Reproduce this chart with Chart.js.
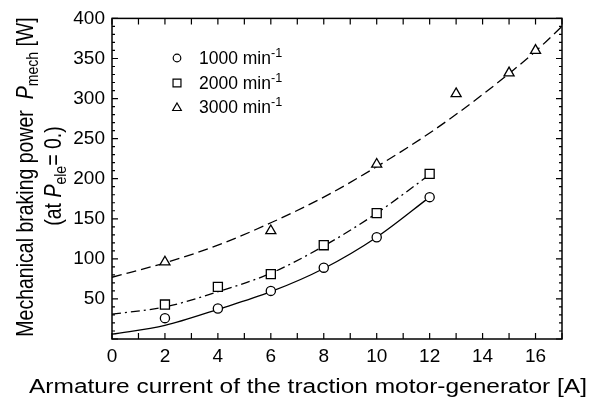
<!DOCTYPE html>
<html>
<head>
<meta charset="utf-8">
<script src="https://cdn.jsdelivr.net/npm/chart.js@4/dist/chart.umd.min.js"></script>
<style>
  html, body { margin: 0; padding: 0; background: #fff; }
  #wrap { width: 597px; height: 406px; position: relative; }
</style>
</head>
<body>
<div id="wrap"><canvas id="c"></canvas></div>
<script>
// measured points
const xCur = [2, 4, 6, 8, 10, 12];
const p1000 = [26, 38, 60, 89, 127, 177];
const p2000 = [43, 65, 81, 117, 157, 206];
const x3000 = [2, 6, 10, 13, 15, 16];
const p3000 = [96, 135, 218, 306, 332, 360];

// fitted curves
const fitX12 = [0, 2, 4, 6, 8, 10, 12];
const fit1000 = [6, 17, 37, 59, 88, 127, 177];
const fit2000 = [31, 40, 59, 82, 116, 157, 205];
const fitX17 = [0, 2, 4, 6, 8, 10, 12, 14, 16, 17];
const fit3000 = [77, 95, 117, 145, 177, 215, 257, 305, 359, 390];

const legendNames = ['1000 min', '2000 min', '3000 min'];
const legendStyles = ['circle', 'rect', 'triangle'];

const xTickLabels = [0, 2, 4, 6, 8, 10, 12, 14, 16];
const yTickLabels = [50, 100, 150, 200, 250, 300, 350, 400];

const FONT = '"Liberation Sans", Arial, sans-serif';
const pts = (xs, ys) => xs.map((x, i) => ({ x, y: ys[i] }));

// draw a run of text parts, each {t, it, sub, sup}
function richWidth(ctx, parts, size) {
  let w = 0;
  parts.forEach(p => {
    const s = (p.sub || p.sup) ? size * 0.72 : size;
    ctx.font = (p.it ? 'italic ' : '') + s + 'px ' + FONT;
    w += ctx.measureText(p.t).width;
  });
  return w;
}
function drawRich(ctx, parts, x, y, size) {
  parts.forEach(p => {
    const s = (p.sub || p.sup) ? size * 0.72 : size;
    ctx.font = (p.it ? 'italic ' : '') + s + 'px ' + FONT;
    let dy = 0;
    if (p.sub) dy = size * 0.22;
    if (p.sup) dy = -size * 0.38;
    ctx.fillText(p.t, x, y + dy);
    x += ctx.measureText(p.t).width;
  });
}

const framePlugin = {
  id: 'frame',
  afterDraw(chart) {
    const ctx = chart.ctx;
    const a = chart.chartArea;
    const sx = chart.scales.x, sy = chart.scales.y;
    ctx.save();
    ctx.strokeStyle = '#000';
    ctx.fillStyle = '#000';
    ctx.lineWidth = 1.5;
    ctx.strokeRect(a.left, a.top, a.right - a.left, a.bottom - a.top);

    ctx.lineWidth = 1.2;
    ctx.beginPath();
    for (let v = 0; v <= 17; v++) {
      const px = sx.getPixelForValue(v);
      ctx.moveTo(px, a.bottom); ctx.lineTo(px, a.bottom - 6);
      ctx.moveTo(px, a.top); ctx.lineTo(px, a.top + 6);
    }
    for (let v = 0; v <= 400; v += 10) {
      const py = sy.getPixelForValue(v);
      const len = v % 50 === 0 ? 6 : 3;
      ctx.moveTo(a.left, py); ctx.lineTo(a.left + len, py);
      ctx.moveTo(a.right, py); ctx.lineTo(a.right - len, py);
    }
    ctx.stroke();

    // legend
    ctx.textBaseline = 'alphabetic';
    ctx.textAlign = 'left';
    const rows = [58, 83, 107];
    legendNames.forEach((name, i) => {
      ctx.lineWidth = 1.2;
      ctx.strokeStyle = '#000';
      ctx.fillStyle = '#fff';
      const r = legendStyles[i] === 'rect' ? 5.6 : (legendStyles[i] === 'triangle' ? 5 : 3.8);
      Chart.helpers.drawPoint(ctx, { pointStyle: legendStyles[i], radius: r, rotation: 0, borderWidth: 1.2 }, 177, rows[i] + (legendStyles[i] === 'triangle' ? 1 : 0));
      ctx.fillStyle = '#000';
      drawRich(ctx, [{ t: name }, { t: '-1', sup: true }], 199, rows[i] + 6, 17.5);
    });

    // x title, widened to match the stretched original
    const xt = [{ t: 'Armature current of the traction motor-generator [A]' }];
    const xs = 20;
    const xw = richWidth(ctx, xt, xs);
    const k = 558 / xw;
    ctx.save();
    ctx.translate(308, 393);
    ctx.scale(k, 1);
    drawRich(ctx, xt, -xw / 2, 0, xs);
    ctx.restore();

    // y title, two lines (glyphs widened across like the original)
    const y1 = [{ t: 'Mechanical braking power  ' }, { t: 'P', it: true }, { t: 'mech', sub: true }, { t: ' [W]' }];
    const y2 = [{ t: '(at ' }, { t: 'P', it: true }, { t: 'ele', sub: true }, { t: '= 0.)' }];
    const ys = 19.5;
    ctx.save();
    ctx.translate(33, 177);
    ctx.rotate(-Math.PI / 2);
    ctx.scale(1, 1.2);
    const w1 = richWidth(ctx, y1, ys);
    drawRich(ctx, y1, -w1 / 2, 0, ys);
    ctx.restore();
    ctx.save();
    ctx.translate(61, 176);
    ctx.rotate(-Math.PI / 2);
    ctx.scale(1, 1.2);
    const w2 = richWidth(ctx, y2, ys);
    drawRich(ctx, y2, -w2 / 2, 0, ys);
    ctx.restore();

    ctx.restore();
  }
};

const lineDs = (data, dash) => ({
  type: 'line', data, borderColor: '#000', borderWidth: 1.3, borderDash: dash,
  pointRadius: 0, fill: false, cubicInterpolationMode: 'monotone', order: 2
});
const markDs = (data, style, r) => ({
  type: 'scatter', data, pointStyle: style, pointRadius: r, pointBorderWidth: 1.3,
  pointBorderColor: '#000', pointBackgroundColor: '#fff', showLine: false, order: 1
});

new Chart(document.getElementById('c'), {
  data: {
    datasets: [
      lineDs(pts(fitX12, fit1000), []),
      lineDs(pts(fitX12, fit2000), [9, 4, 2, 4]),
      lineDs(pts(fitX17, fit3000), [10, 5]),
      markDs(pts(xCur, p1000), 'circle', 4.6),
      markDs(pts(xCur, p2000), 'rect', 6.4),
      markDs(pts(x3000, p3000), 'triangle', 5.8)
    ]
  },
  options: {
    responsive: true,
    maintainAspectRatio: false,
    animation: false,
    layout: { padding: { left: 0, top: 18, right: 35, bottom: 0 } },
    plugins: { legend: { display: false }, tooltip: { enabled: false } },
    scales: {
      x: {
        type: 'linear', min: 0, max: 17,
        afterFit: s => { s.height = 67; },
        border: { display: false },
        grid: { display: false, drawTicks: false },
        afterBuildTicks: s => { s.ticks = xTickLabels.map(v => ({ value: v })); },
        ticks: { color: '#000', padding: 6, font: { family: FONT, size: 19 }, maxRotation: 0, autoSkip: false }
      },
      y: {
        type: 'linear', min: 0, max: 400,
        afterFit: s => { s.width = 112; },
        border: { display: false },
        grid: { display: false, drawTicks: false },
        afterBuildTicks: s => { s.ticks = yTickLabels.map(v => ({ value: v })); },
        ticks: { color: '#000', padding: 7, font: { family: FONT, size: 19 }, autoSkip: false }
      }
    }
  },
  plugins: [framePlugin]
});
</script>
</body>
</html>
